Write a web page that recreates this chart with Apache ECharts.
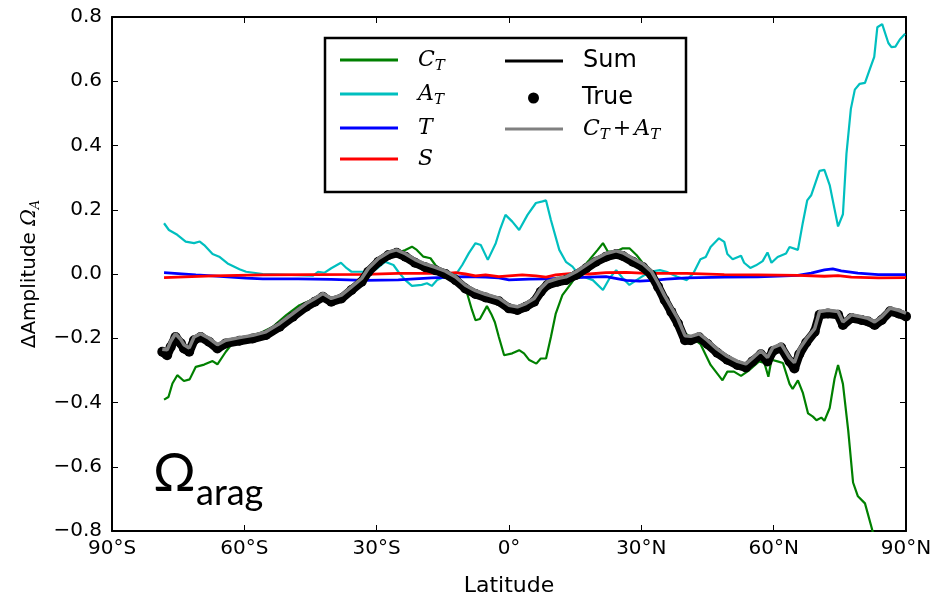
<!DOCTYPE html>
<html>
<head>
<meta charset="utf-8">
<script src="https://cdn.jsdelivr.net/npm/echarts@6/dist/echarts.min.js"></script>
<style>
  html, body { margin: 0; padding: 0; background: #fff; }
  #chart { width: 930px; height: 599px; }
</style>
</head>
<body>
<div id="chart"></div>
<script>
// latitude ticks
const latTicks = [-90, -60, -30, 0, 30, 60, 90]

// C_T (green)
const ctPoints = [[-78.2,-0.391],[-77.2,-0.383],[-76.3,-0.341],[-75.2,-0.315],[-73.7,-0.333],[-72.4,-0.328],
  [-71.0,-0.289],[-69.1,-0.282],[-67.2,-0.271],[-66.1,-0.281],[-64.2,-0.242],[-62.7,-0.216],[-59.6,-0.196],
  [-56.6,-0.185],[-53.5,-0.164],[-50.5,-0.128],[-47.5,-0.097],[-44.4,-0.079],[-42.2,-0.075],[-40.3,-0.090],
  [-38.0,-0.082],[-35.7,-0.055],[-33.4,-0.030],[-31.9,0.000],[-29.6,0.033],[-26.6,0.059],[-23.5,0.075],
  [-22.0,0.085],[-20.9,0.075],[-19.4,0.054],[-17.8,0.049],[-16.7,0.028],[-15.2,0.007],[-12.9,0.002],
  [-10.6,-0.040],[-9.5,-0.060],[-8.4,-0.112],[-7.6,-0.144],[-6.6,-0.140],[-5.0,-0.100],[-4.0,-0.125],
  [-3.2,-0.150],[-2.3,-0.196],[-1.1,-0.253],[0.75,-0.247],[2.3,-0.237],[3.4,-0.247],[4.6,-0.268],
  [6.2,-0.279],[7.2,-0.263],[8.4,-0.263],[9.5,-0.196],[10.6,-0.123],[12.1,-0.066],[14.1,-0.029],
  [15.9,0.007],[18.2,0.044],[20.1,0.075],[21.3,0.096],[22.4,0.070],[24.3,0.070],[25.8,0.080],[27.3,0.080],
  [28.9,0.059],[30.4,0.033],[32.6,0.007],[34.2,-0.040],[35.7,-0.091],[38.0,-0.144],[39.9,-0.185],
  [41.2,-0.195],[43.4,-0.218],[45.7,-0.283],[48.4,-0.331],[49.5,-0.304],[51.0,-0.304],[52.6,-0.317],
  [54.5,-0.299],[56.7,-0.272],[57.9,-0.277],[58.8,-0.320],[59.5,-0.267],[60.9,-0.272],[62.1,-0.277],
  [63.6,-0.342],[64.3,-0.358],[65.5,-0.331],[66.6,-0.369],[67.8,-0.434],[68.9,-0.444],[69.7,-0.455],
  [70.8,-0.447],[71.5,-0.457],[72.7,-0.417],[73.8,-0.326],[74.6,-0.283],[75.7,-0.342],[76.9,-0.487],
  [78.0,-0.649],[79.1,-0.692],[80.7,-0.714],[82.2,-0.789],[84.6,-0.920],[86.0,-0.860],[87.6,-0.840],[90.0,-0.880]]

// A_T (cyan)
const atPoints = [[-78.2,0.158],[-77.1,0.137],[-75.2,0.122],[-73.3,0.101],[-71.4,0.096],[-70.1,0.101],
  [-69.1,0.090],[-67.2,0.062],[-65.7,0.054],[-63.8,0.033],[-61.1,0.015],[-59.6,0.007],[-55.8,0.000],
  [-44.4,-0.005],[-43.3,0.007],[-41.8,0.004],[-40.3,0.018],[-38.1,0.035],[-36.8,0.018],[-35.7,0.007],
  [-32.7,0.007],[-30.4,0.012],[-28.1,0.038],[-26.2,0.028],[-25.1,0.007],[-23.5,-0.019],[-22.0,-0.037],
  [-19.8,-0.034],[-18.6,-0.029],[-17.5,-0.037],[-16.3,-0.019],[-14.4,-0.008],[-12.1,-0.003],[-10.6,0.028],
  [-9.1,0.065],[-7.6,0.096],[-6.4,0.090],[-4.8,0.044],[-3.0,0.096],[-2.0,0.140],[-0.8,0.184],[0.75,0.163],
  [2.3,0.137],[4.2,0.184],[6.1,0.221],[7.6,0.226],[8.4,0.229],[9.5,0.168],[11.4,0.075],[12.9,0.038],
  [14.4,0.023],[15.6,0.002],[16.7,-0.008],[19.0,-0.019],[21.3,-0.050],[22.8,-0.013],[24.3,0.012],
  [25.8,-0.013],[27.3,-0.034],[29.6,-0.013],[31.9,0.007],[34.2,0.012],[35.7,0.007],[38.0,-0.008],
  [40.3,-0.019],[41.8,0.002],[43.4,0.046],[44.6,0.053],[45.7,0.084],[47.6,0.111],[48.8,0.100],[49.5,0.062],
  [50.7,0.046],[52.6,0.057],[53.3,0.035],[54.7,0.019],[56.0,0.027],[57.5,0.040],[58.6,0.067],[59.5,0.035],
  [60.9,0.053],[62.8,0.064],[63.6,0.084],[65.5,0.075],[66.6,0.159],[67.6,0.229],[68.5,0.245],[70.4,0.321],
  [71.5,0.324],[72.7,0.277],[73.8,0.202],[74.6,0.148],[75.7,0.186],[76.5,0.374],[77.5,0.514],[78.4,0.574],
  [79.5,0.592],[80.7,0.595],[81.8,0.638],[82.8,0.676],[83.5,0.768],[84.6,0.778],[86.0,0.719],[86.7,0.706],
  [87.6,0.708],[88.6,0.730],[89.8,0.748]]

// T (blue)
const tPoints = [[-78.2,0.004],[-71.0,-0.003],[-67.2,-0.006],[-59.6,-0.013],[-55.8,-0.015],[-47.8,-0.015],
  [-40.3,-0.017],[-32.7,-0.020],[-25.1,-0.018],[-17.5,-0.012],[-9.9,-0.008],[-5.3,-0.010],[-2.3,-0.012],
  [0.0,-0.018],[4.6,-0.016],[8.4,-0.015],[12.9,-0.013],[18.2,-0.010],[22.0,-0.008],[26.6,-0.020],
  [29.6,-0.022],[32.6,-0.020],[35.7,-0.016],[40.3,-0.012],[48.8,-0.010],[56.4,-0.009],[65.5,-0.004],
  [68.5,0.003],[71.5,0.013],[73.4,0.016],[75.3,0.010],[79.1,0.003],[83.7,-0.002],[90.0,-0.002]]

// S (red)
const sPoints = [[-78.2,-0.011],[-67.2,-0.006],[-55.8,-0.003],[-44.4,-0.002],[-32.7,-0.001],[-25.1,0.002],
  [-14.0,0.002],[-12.1,0.004],[-9.9,0.000],[-7.6,-0.006],[-5.3,-0.003],[-2.3,-0.008],[0.75,-0.005],
  [3.0,-0.003],[6.1,-0.006],[8.4,-0.010],[10.6,-0.003],[14.4,0.002],[18.2,0.000],[22.0,0.004],[26.6,0.005],
  [31.1,0.002],[40.3,0.002],[48.8,-0.002],[56.4,-0.003],[65.5,-0.004],[71.5,-0.007],[74.6,-0.005],
  [77.6,-0.010],[83.7,-0.012],[90.0,-0.011]]

// Sum, True, C_T + A_T share latitudes
const latBlack = [-78.6,-77.5,-76.7,-75.6,-74.4,-73.7,-72.5,-71.4,-69.9,-68.0,-66.1,-64.2,-61.1,-58.1,-55.1,
  -52.0,-49.0,-46.0,-44.0,-42.2,-40.3,-38.0,-35.7,-33.4,-31.9,-29.6,-27.3,-25.5,-23.5,-21.3,-19.0,-16.7,
  -14.4,-12.1,-9.9,-7.6,-5.3,-2.3,0.0,1.9,3.8,5.7,7.2,8.7,11.0,12.9,15.2,17.5,19.7,22.0,24.3,25.8,28.1,
  30.4,32.3,33.8,35.3,36.8,38.3,39.9,41.2,43.1,45.0,47.2,49.5,51.8,53.7,55.2,57.1,58.6,59.8,61.7,63.6,
  64.7,65.8,67.4,69.3,70.4,72.3,74.6,75.7,77.6,79.9,81.4,82.9,84.5,86.4,88.3,90.0]
const sumVals = [-0.240,-0.246,-0.220,-0.192,-0.212,-0.228,-0.238,-0.202,-0.192,-0.207,
  -0.228,-0.212,-0.204,-0.197,-0.186,-0.160,-0.129,-0.098,-0.082,-0.067,
  -0.082,-0.072,-0.046,-0.020,0.011,0.042,0.062,0.069,0.057,0.039,
  0.025,0.015,0.003,-0.015,-0.041,-0.058,-0.069,-0.081,-0.103,-0.108,
  -0.098,-0.082,-0.051,-0.030,-0.020,-0.015,0.001,0.022,0.042,0.058,
  0.066,0.060,0.042,0.025,0.001,-0.036,-0.077,-0.113,-0.150,-0.202,
  -0.202,-0.193,-0.214,-0.241,-0.263,-0.279,-0.287,-0.268,-0.246,-0.268,
  -0.236,-0.225,-0.268,-0.288,-0.244,-0.209,-0.176,-0.123,-0.119,-0.123,
  -0.155,-0.133,-0.139,-0.144,-0.155,-0.139,-0.112,-0.119,-0.128]
const trueVals = [-0.242,-0.253,-0.227,-0.196,-0.216,-0.232,-0.242,-0.206,-0.196,-0.211,
  -0.232,-0.216,-0.208,-0.201,-0.190,-0.164,-0.133,-0.102,-0.086,-0.071,
  -0.086,-0.076,-0.050,-0.024,0.007,0.038,0.059,0.066,0.054,0.035,
  0.021,0.012,0.000,-0.019,-0.045,-0.062,-0.073,-0.085,-0.107,-0.112,
  -0.102,-0.086,-0.055,-0.034,-0.024,-0.019,-0.003,0.018,0.038,0.054,
  0.062,0.056,0.038,0.021,-0.003,-0.040,-0.081,-0.118,-0.154,-0.206,
  -0.206,-0.197,-0.218,-0.245,-0.267,-0.283,-0.291,-0.272,-0.250,-0.272,
  -0.240,-0.229,-0.272,-0.294,-0.250,-0.213,-0.180,-0.127,-0.123,-0.127,
  -0.159,-0.137,-0.143,-0.148,-0.159,-0.143,-0.116,-0.123,-0.132]
const ctatVals = [-0.234,-0.236,-0.210,-0.186,-0.204,-0.220,-0.230,-0.196,-0.186,-0.200,
  -0.220,-0.206,-0.198,-0.191,-0.180,-0.154,-0.123,-0.092,-0.076,-0.061,
  -0.076,-0.066,-0.040,-0.014,0.017,0.048,0.068,0.075,0.063,0.045,
  0.031,0.021,0.009,-0.009,-0.035,-0.052,-0.063,-0.075,-0.097,-0.102,
  -0.092,-0.076,-0.045,-0.024,-0.014,-0.009,0.007,0.028,0.048,0.064,
  0.072,0.066,0.048,0.031,0.008,-0.028,-0.068,-0.104,-0.140,-0.192,
  -0.194,-0.186,-0.207,-0.234,-0.256,-0.272,-0.280,-0.262,-0.239,-0.260,
  -0.229,-0.218,-0.260,-0.276,-0.234,-0.202,-0.170,-0.117,-0.113,-0.117,
  -0.149,-0.127,-0.133,-0.138,-0.149,-0.133,-0.106,-0.113,-0.122]

const zip = (xs, ys) => xs.map((x, i) => [x, ys[i]])

const SANS = 'DejaVu Sans'
const SERIF = 'DejaVu Serif'

const latLabel = v => {
  if (v === 0) return '0°'
  return Math.abs(v) + '°' + (v < 0 ? 'S' : 'N')
}
const numLabel = v => {
  if (Math.abs(v) < 1e-9) return '0.0'
  return v.toFixed(1).replace('-', '\u2212')
}

// legend text: math names in italic serif with subscripts
const legendName = {
  'C_T': '{m|C}{s|T}',
  'A_T': '{m|A}{s|T}',
  'T': '{m|T}',
  'S': '{m|S}',
  'Sum': '{t|Sum}',
  'True': '{t|True}',
  'C_T+A_T': '{m|C}{s|T}{p|+}{m|A}{s|T}'
}
const legendRich = {
  m: { fontFamily: SERIF, fontStyle: 'italic', fontSize: 22, lineHeight: 28, color: '#000' },
  s: { fontFamily: SERIF, fontStyle: 'italic', fontSize: 15, lineHeight: 15, verticalAlign: 'bottom', color: '#000' },
  p: { fontFamily: SERIF, fontSize: 22, lineHeight: 28, color: '#000', padding: [0, 3, 0, 3] },
  t: { fontFamily: SANS, fontSize: 24, lineHeight: 28, color: '#000' }
}
const legendBase = {
  orient: 'vertical',
  itemWidth: 58,
  itemHeight: 3,
  icon: 'rect',
  z: 10,
  selectedMode: false,
  formatter: n => legendName[n],
  textStyle: { padding: [0, 0, 0, 15], rich: legendRich }
}

const lineSeries = (name, data, color, width) => ({
  name,
  type: 'line',
  data,
  showSymbol: false,
  lineStyle: { color, width },
  itemStyle: { color },
  emphasis: { disabled: true }
})

const chart = echarts.init(document.getElementById('chart'))
const axisLineStyle = { color: '#000', width: 2 }
const tickStyle = { inside: true, length: 6, lineStyle: { color: '#000', width: 1 } }

chart.setOption({
  animation: false,
  backgroundColor: '#fff',
  grid: { left: 112, right: 24, top: 17, bottom: 68, outerBoundsMode: 'none', containLabel: false },
  xAxis: [
    {
      type: 'value', min: -90, max: 90, interval: 30, position: 'bottom',
      axisLine: { onZero: false, lineStyle: axisLineStyle },
      axisTick: tickStyle,
      splitLine: { show: false },
      axisLabel: { formatter: latLabel, color: '#000', fontFamily: SANS, fontSize: 20, margin: 8 },
      name: 'Latitude', nameLocation: 'middle', nameGap: 44,
      nameTextStyle: { color: '#000', fontFamily: SANS, fontSize: 22 }
    },
    {
      type: 'value', min: -90, max: 90, interval: 30, position: 'top',
      axisLine: { onZero: false, lineStyle: axisLineStyle },
      axisTick: tickStyle,
      splitLine: { show: false },
      axisLabel: { show: false }
    }
  ],
  yAxis: [
    {
      type: 'value', min: -0.8, max: 0.8, interval: 0.2, position: 'left',
      axisLine: { show: true, onZero: false, lineStyle: axisLineStyle },
      axisTick: { show: true, ...tickStyle },
      splitLine: { show: false },
      axisLabel: { formatter: numLabel, color: '#000', fontFamily: SANS, fontSize: 20, margin: 10 },
      name: '{t|ΔAmplitude }{m|Ω}{s|A}', nameLocation: 'middle', nameRotate: 90, nameGap: 66,
      nameTextStyle: {
        rich: {
          t: { fontFamily: SANS, fontSize: 20, lineHeight: 26, color: '#000' },
          m: { fontFamily: SERIF, fontStyle: 'italic', fontSize: 20, lineHeight: 26, color: '#000' },
          s: { fontFamily: SERIF, fontStyle: 'italic', fontSize: 13, lineHeight: 13, verticalAlign: 'bottom', color: '#000' }
        }
      }
    },
    {
      type: 'value', min: -0.8, max: 0.8, interval: 0.2, position: 'right',
      axisLine: { show: true, onZero: false, lineStyle: axisLineStyle },
      axisTick: { show: true, ...tickStyle },
      splitLine: { show: false },
      axisLabel: { show: false }
    }
  ],
  legend: [
    { ...legendBase, left: 335, top: 44, itemGap: 9, data: ['C_T', 'A_T', 'T', 'S'] },
    { ...legendBase, left: 500, top: 44, itemGap: 45, data: ['Sum', 'C_T+A_T'] },
    { ...legendBase, left: 523, top: 81, itemWidth: 11, itemHeight: 11, icon: 'circle',
      textStyle: { padding: [0, 0, 0, 38], rich: legendRich }, data: ['True'] }
  ],
  graphic: [
    {
      type: 'rect', z: 5,
      shape: { x: 325, y: 38, width: 361, height: 154 },
      style: { fill: '#fff', stroke: '#000', lineWidth: 2.5 }
    },
    {
      type: 'text', z: 5, left: 153, top: 447,
      style: { text: 'Ω', font: '53px Lato', fill: '#000' }
    },
    {
      type: 'text', z: 5, left: 196, top: 475,
      style: { text: 'arag', font: '36px Lato', fill: '#000' }
    }
  ],
  series: [
    lineSeries('C_T', ctPoints, '#008000', 2.2),
    lineSeries('A_T', atPoints, '#00BFBF', 2.2),
    lineSeries('T', tPoints, '#0000FF', 2.8),
    lineSeries('S', sPoints, '#FF0000', 2.8),
    lineSeries('Sum', zip(latBlack, sumVals), '#000000', 2.5),
    {
      name: 'True',
      type: 'line',
      data: zip(latBlack, trueVals),
      symbol: 'circle',
      symbolSize: 10,
      showSymbol: true,
      lineStyle: { color: '#000', width: 9 },
      itemStyle: { color: '#000' },
      emphasis: { disabled: true }
    },
    { ...lineSeries('C_T+A_T', zip(latBlack, ctatVals), '#808080', 3.5), z: 4 }
  ]
})
</script>
</body>
</html>
